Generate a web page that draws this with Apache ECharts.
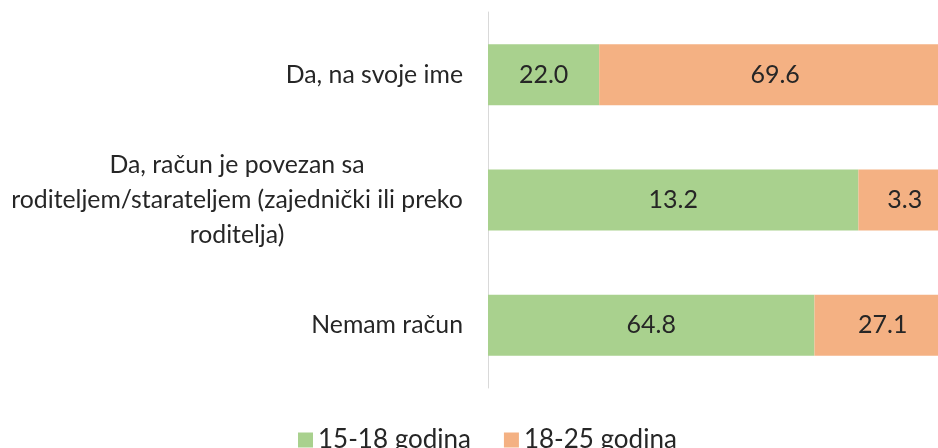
<!DOCTYPE html>
<html><head><meta charset="utf-8">
<script src="https://cdn.jsdelivr.net/npm/echarts@6/dist/echarts.min.js"></script>
<style>html,body{margin:0;padding:0;background:#fff}#c{width:938px;height:448px}</style>
</head><body><div id="c"></div>
<script>
const categories = ['Da, na svoje ime', 'Da, račun je povezan sa\nroditeljem/starateljem (zajednički ili preko\nroditelja)', 'Nemam račun'];
const seriesNames = ['15-18 godina', '18-25 godina'];
const young = [22.0, 13.2, 64.8];
const older = [69.6, 3.3, 27.1];
const colors = ['#A9D18E', '#F4B183'];

const totals = young.map((v, i) => v + older[i]);
const share = arr => arr.map((v, i) => ({ value: v / totals[i] * 100, raw: v }));

const font = 'Lato, "Open Sans", sans-serif';
const catSize = 24.8;
const cv = document.createElement('canvas').getContext('2d');
cv.font = catSize + 'px ' + font;
const boxW = c => Math.ceil(Math.max(...c.split('\n').map(l => cv.measureText(l).width)));
const multiW = boxW(categories[1]);

const chart = echarts.init(document.getElementById('c'));
chart.setOption({
  animation: false,
  grid: { left: 488, width: 463, top: 12, height: 376, outerBoundsMode: 'none', containLabel: false },
  xAxis: { type: 'value', min: 0, max: 100, show: false },
  yAxis: {
    type: 'category', data: categories, inverse: true,
    axisLine: { show: true, lineStyle: { color: '#D9D9D9', width: 1 } },
    axisTick: { show: false },
    axisLabel: { margin: 25, fontSize: catSize, color: '#262626', fontFamily: font, lineHeight: 35, align: 'right',
      formatter: v => v.indexOf('\n') < 0 ? '{s|' + v + '}' : '{m|' + v.split('\n').join('}\n{m|') + '}',
      rich: {
        s: { fontSize: catSize, fontFamily: font, color: '#262626', lineHeight: 35 },
        m: { fontSize: catSize, fontFamily: font, color: '#262626', lineHeight: 35, align: 'center', width: multiW }
      } },
  },
  legend: {
    bottom: -10, left: 293, itemWidth: 15, itemHeight: 15, itemGap: 33,
    textStyle: { fontSize: 26, color: '#262626', fontFamily: font },
    icon: 'rect', data: seriesNames
  },
  series: [
    { name: seriesNames[0], type: 'bar', stack: 's', data: share(young), barWidth: 61,
      itemStyle: { color: colors[0] },
      label: { show: true, position: 'inside', fontSize: 25, color: '#262626', fontFamily: font,
        formatter: p => p.data.raw.toFixed(1) } },
    { name: seriesNames[1], type: 'bar', stack: 's', data: share(older), barWidth: 61,
      itemStyle: { color: colors[1] },
      label: { show: true, position: 'inside', fontSize: 25, color: '#262626', fontFamily: font,
        formatter: p => p.data.raw.toFixed(1) } }
  ]
});
</script></body></html>
